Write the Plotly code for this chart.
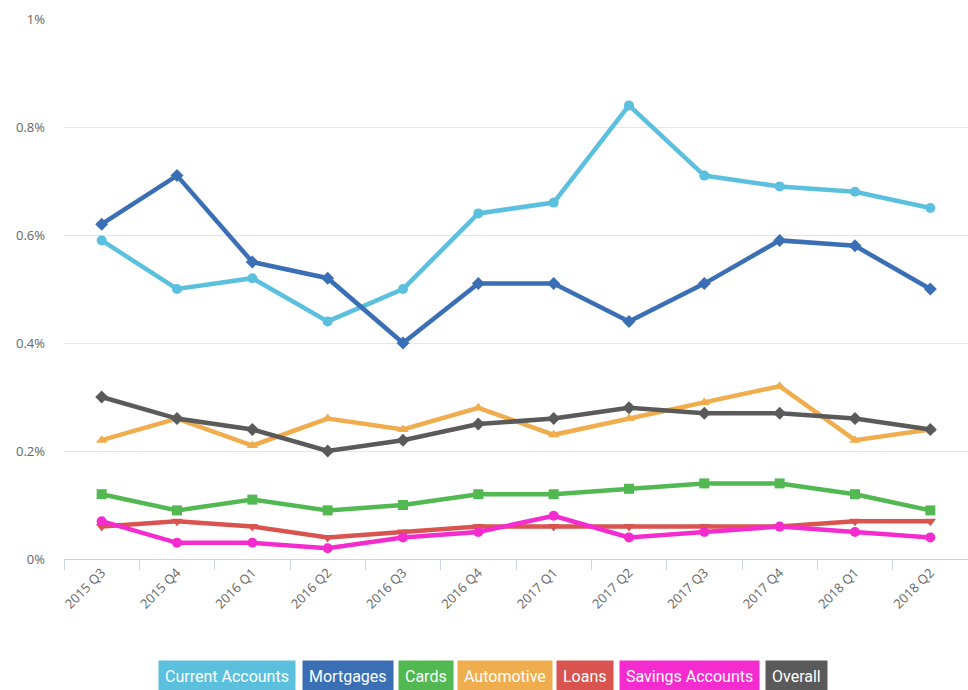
import plotly.graph_objects as go

quarters = ["2015 Q3", "2015 Q4", "2016 Q1", "2016 Q2", "2016 Q3", "2016 Q4",
            "2017 Q1", "2017 Q2", "2017 Q3", "2017 Q4", "2018 Q1", "2018 Q2"]

current_accounts = [0.59, 0.50, 0.52, 0.44, 0.50, 0.64, 0.66, 0.84, 0.71, 0.69, 0.68, 0.65]
mortgages = [0.62, 0.71, 0.55, 0.52, 0.40, 0.51, 0.51, 0.44, 0.51, 0.59, 0.58, 0.50]
cards = [0.12, 0.09, 0.11, 0.09, 0.10, 0.12, 0.12, 0.13, 0.14, 0.14, 0.12, 0.09]
automotive = [0.22, 0.26, 0.21, 0.26, 0.24, 0.28, 0.23, 0.26, 0.29, 0.32, 0.22, 0.24]
loans = [0.06, 0.07, 0.06, 0.04, 0.05, 0.06, 0.06, 0.06, 0.06, 0.06, 0.07, 0.07]
savings_accounts = [0.07, 0.03, 0.03, 0.02, 0.04, 0.05, 0.08, 0.04, 0.05, 0.06, 0.05, 0.04]
overall = [0.30, 0.26, 0.24, 0.20, 0.22, 0.25, 0.26, 0.28, 0.27, 0.27, 0.26, 0.24]

y_ticks = [0, 0.2, 0.4, 0.6, 0.8, 1.0]
y_tick_labels = ["0%", "0.2%", "0.4%", "0.6%", "0.8%", "1%"]

series = [
    ("Current Accounts", current_accounts, "#5bc0de", "circle"),
    ("Mortgages", mortgages, "#3a6fb5", "diamond"),
    ("Cards", cards, "#52b852", "square"),
    ("Automotive", automotive, "#f0ad4e", "triangle-up"),
    ("Loans", loans, "#d9534f", "triangle-down"),
    ("Savings Accounts", savings_accounts, "#f42ccf", "circle"),
    ("Overall", overall, "#5a5a5a", "diamond"),
]

fig = go.Figure()
for name, vals, color, sym in series:
    fig.add_trace(go.Scatter(
        x=quarters, y=vals, name=name, mode="lines+markers",
        line=dict(color=color, width=4.5),
        marker=dict(color=color, symbol=sym, size=10),
        showlegend=False,
    ))

# Button-like legend made of annotations
legend_centers = [227, 348, 425.5, 504.5, 585, 689.5, 796.5]
plot_left, plot_width = 64, 904
for (name, vals, color, sym), cx in zip(series, legend_centers):
    fig.add_annotation(
        x=(cx - plot_left) / plot_width, y=-0.2185, xref="paper", yref="paper",
        text=name, showarrow=False, xanchor="center", yanchor="middle",
        font=dict(family="Roboto", size=16, color="white"),
        bgcolor=color, borderpad=6,
    )

fig.update_layout(
    width=968, height=690,
    margin=dict(l=64, r=0, t=19, b=131),
    paper_bgcolor="white", plot_bgcolor="white",
    font=dict(family="Open Sans", size=13, color="#666666"),
    xaxis=dict(
        type="category", range=[-0.5, 11.5], tickangle=-45,
        tickson="boundaries", ticks="outside", ticklen=10, tickcolor="#ccd6eb",
        showgrid=False, showline=True, linecolor="#ccd6eb", linewidth=1,
        tickfont=dict(family="Open Sans", size=13, color="#666666"),
    ),
    yaxis=dict(
        range=[0, 1.0], tickvals=y_ticks, ticktext=y_tick_labels,
        showgrid=True, gridcolor="#e6e6e6", gridwidth=1, zeroline=False,
        showline=False, ticks="", ticklabelstandoff=18,
        tickfont=dict(family="Open Sans", size=13, color="#666666"),
    ),
)

fig.write_html("out.html")
